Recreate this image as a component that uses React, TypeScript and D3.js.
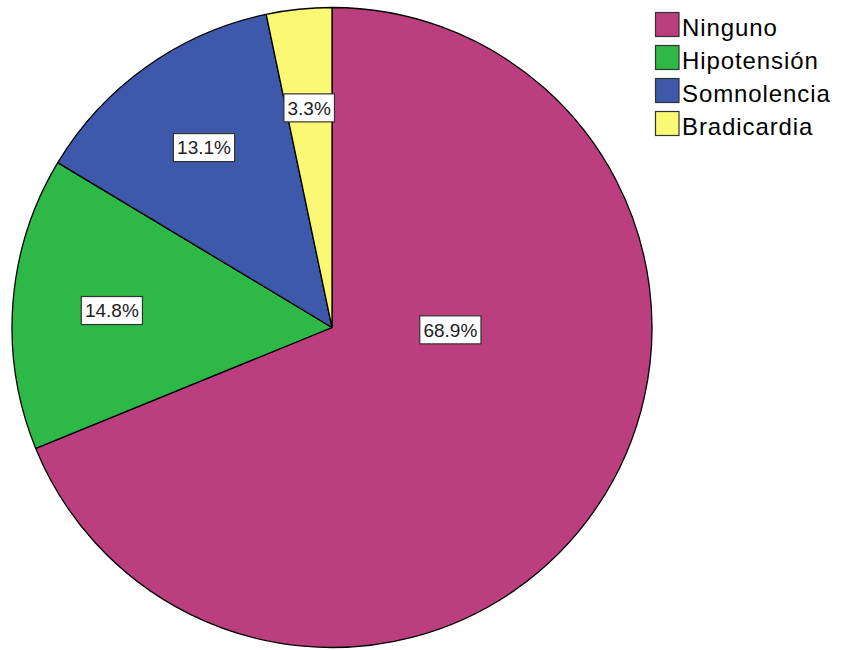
import React from "react";
import * as d3 from "d3";

const categories = ["Ninguno", "Hipotensión", "Somnolencia", "Bradicardia"];
const percents = [68.9, 14.8, 13.1, 3.3];
const colors = ["#BB3F7F", "#2EB848", "#3E58AC", "#FBF873"];

const W = 841;
const H = 650;
const cx = 332;
const cy = 327.5;
const R = 320;

export default function App() {
  const pie = d3
    .pie<number>()
    .sort(null)
    .value((d) => d)
    .startAngle(0)
    .endAngle(2 * Math.PI);
  const arcs = pie(percents);
  const arcGen = d3.arc<d3.PieArcDatum<number>>().innerRadius(0).outerRadius(R);

  const labelFont = 19;
  const legendFont = 24;

  const labelPos = (a: d3.PieArcDatum<number>) => {
    const span = a.endAngle - a.startAngle;
    let ang = (a.startAngle + a.endAngle) / 2;
    let rr = 0.69 * R;
    if (span > Math.PI) {
      ang = Math.PI / 2 + 0.02;
      rr = 0.37 * R;
    }
    return [Math.sin(ang) * rr, -Math.cos(ang) * rr];
  };

  return (
    <div style={{ position: "fixed", left: 0, top: 0, width: W, height: H, background: "#fff" }}>
      <svg width={W} height={H} style={{ display: "block" }} fontFamily="'Liberation Sans', Arial, sans-serif">
        <rect x={0} y={0} width={W} height={H} fill="#fff" />
        <g transform={`translate(${cx},${cy})`}>
          {arcs.map((a, i) => (
            <path key={i} d={arcGen(a) || ""} fill={colors[i]} stroke="#000" strokeWidth={1.3} strokeLinejoin="round" />
          ))}
          {arcs.map((a, i) => {
            const [x, y] = labelPos(a);
            const txt = `${percents[i].toFixed(1)}%`;
            const tw = txt.length * labelFont * 0.56 + 2;
            const bw = tw + 6;
            const bh = labelFont + 9;
            return (
              <g key={"l" + i} transform={`translate(${x},${y})`}>
                <rect x={-bw / 2} y={-bh / 2} width={bw} height={bh} fill="#fff" stroke="#333" strokeWidth={1.2} />
                <text x={0} y={0} dy="0.36em" textAnchor="middle" fontSize={labelFont} fill="#222" fontWeight={400}>
                  {txt}
                </text>
              </g>
            );
          })}
        </g>
        <g transform="translate(655,12)">
          {categories.map((c, i) => (
            <g key={c} transform={`translate(0,${i * 33})`}>
              <rect x={0.5} y={0.5} width={23.5} height={24} fill={colors[i]} stroke="#333" strokeWidth={1.2} />
              <text x={27} y={24} fontSize={legendFont} letterSpacing={0.9} fill="#000">
                {c}
              </text>
            </g>
          ))}
        </g>
      </svg>
    </div>
  );
}
